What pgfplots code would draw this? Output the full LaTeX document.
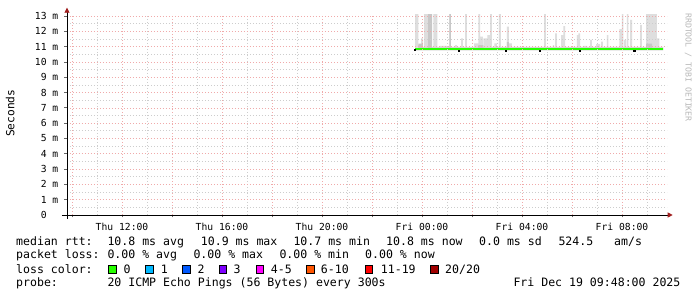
\documentclass[border=0pt]{standalone}
\usepackage{fontspec}
\setmonofont{DejaVu Sans Mono}
\usepackage{pgfplots}
\pgfplotsset{compat=1.18}
\usetikzlibrary{arrows.meta}
\definecolor{mgrid}{RGB}{240,170,170}
\definecolor{mingrid}{RGB}{205,205,205}
\definecolor{smoke}{RGB}{222,222,222}
\definecolor{smokemid}{RGB}{200,200,200}
\definecolor{smokedark}{RGB}{185,185,185}
\definecolor{loss0}{HTML}{26FF00}
\definecolor{loss1}{HTML}{00B8FF}
\definecolor{loss2}{HTML}{0059FF}
\definecolor{loss3}{HTML}{7E00FF}
\definecolor{loss4}{HTML}{FF00FF}
\definecolor{loss6}{HTML}{FF5500}
\definecolor{loss11}{HTML}{FF0000}
\definecolor{loss20}{HTML}{A10000}
\definecolor{arrowred}{RGB}{160,30,30}
\newcommand\legfont{\ttfamily\fontsize{11.55}{12}\selectfont}
\newcommand\tickfont{\ttfamily\fontsize{9.7}{10}\selectfont}
\newcommand\lgd[3]{\node[anchor=base west, inner sep=0pt, font=\legfont] at (#1pt,#2pt) {#3};}
\newcommand\sq[2]{\draw[fill=#2, line width=0.8pt] (#1pt,23.6pt) rectangle ++(7.8pt,8pt);}
\begin{document}
\begin{tikzpicture}
\useasboundingbox (0,0) rectangle (697pt,297pt);
\fill[white] (0,0) rectangle (697pt,297pt);
\begin{axis}[
  at={(67pt,82pt)}, anchor=south west,
  scale only axis, width=600pt, height=200pt,
  xmin=9.8, xmax=33.8, ymin=0, ymax=13.07,
  axis lines*=left,
  axis line style={black, line width=0.8pt},
  x axis line style={-{Triangle[length=5pt,width=5pt,color=arrowred]}, shorten >=-5.7pt, shorten <=-5pt},
  y axis line style={-{Triangle[length=5pt,width=5pt,color=arrowred]}, shorten >=-7.3pt, shorten <=-4pt},
  xtick={10,12,...,32},
  xticklabels={,Thu 12:00,,Thu 16:00,,Thu 20:00,,Fri 00:00,,Fri 04:00,,Fri 08:00},
  minor xtick={11,13,...,33},
  ytick={0,1,...,13},
  yticklabels={0\phantom{\ m},1 m,2 m,3 m,4 m,5 m,6 m,7 m,8 m,9 m,10 m,11 m,12 m,13 m},
  minor ytick={0.5,1.5,...,12.5},
  grid=both,
  major grid style={mgrid, dash pattern=on 0.8pt off 2.2pt, line width=0.7pt},
  minor grid style={mingrid, dash pattern=on 0.8pt off 2.2pt, line width=0.7pt},
  tick align=outside, major tick length=2.5pt, minor tick length=0pt,
  tick style={black!60, line width=0.8pt},
  axis on top,
  xticklabel style={font=\tickfont, anchor=base, inner sep=0pt, yshift=-12.7pt},
  yticklabel style={font=\tickfont, anchor=east, inner sep=0pt, xshift=-6pt},
]
% light smoke
\addplot[fill=smoke, draw=none, const plot mark left] coordinates {
(23.72,10.78) (23.72,13.5) (23.853,11.1) (23.96,11.55) (24.03,10.98) (24.08,13.5) (24.39,10.98)
(24.45,13.5) (24.61,10.98) (24.72,11.05) (24.99,10.98) (25.09,13.5) (25.15,10.98) (25.32,11.1)
(25.39,10.98) (25.56,11.55) (25.63,10.98) (25.72,13.5) (25.79,10.98) (26.08,11.22) (26.25,13.5)
(26.32,11.65) (26.43,10.98) (26.45,11.55) (26.61,11.76) (26.72,13.5) (26.79,10.98) (26.89,11.22)
(26.99,10.98) (27.07,13.5) (27.15,10.98) (27.39,12.31) (27.47,11.22) (27.59,10.98) (28.88,13.5)
(28.95,10.98) (29.23,11.1) (29.28,10.98) (29.32,11.87) (29.39,10.98) (29.56,11.76) (29.65,12.35)
(29.72,10.98) (30.19,11.76) (30.25,11.87) (30.32,10.98) (30.45,11.05) (30.6,10.98) (30.72,11.44)
(30.79,10.98) (30.96,11.16) (31.12,10.98) (31.16,11.33) (31.23,10.98) (31.39,11.76) (31.45,10.98)
(31.89,12.14) (31.99,13.5) (32.05,10.98) (32.08,11.44) (32.16,10.98) (32.19,13.5) (32.25,10.98)
(32.32,12.75) (32.40,10.98) (32.72,12.42) (32.79,10.98) (32.96,13.5) (33.39,11.55) (33.49,10.98)
(33.64,10.98) (33.64,10.78)
} -- cycle;
% mid smoke
\addplot[fill=smokemid, draw=none, const plot mark left] coordinates {
(23.72,10.78) (23.85,11.2) (24.03,10.94) (24.24,13.5) (24.40,10.94) (25.09,13.5) (25.15,10.94)
(26.25,11.1) (26.45,10.94) (27.39,11.3) (27.47,10.94) (32.96,11.2) (33.2,10.94) (33.64,10.94) (33.64,10.78)
} -- cycle;
% dark band just above the median
\addplot[fill=smokedark, draw=none, const plot mark left] coordinates {
(23.72,10.78) (23.72,10.91) (33.64,10.91) (33.64,10.78)
} -- cycle;
% median rtt
\addplot[loss0, line width=2pt, const plot mark left] coordinates {
(23.72,10.82) (23.96,10.85) (24.2,10.82) (33.64,10.82)
};
\addplot[only marks, mark=square*, mark size=0.6pt, black] coordinates {
(23.72,10.82) (25.48,10.74) (27.36,10.74) (28.72,10.76) (30.32,10.74) (32.49,10.74)
};
\end{axis}
\node[font=\ttfamily\fontsize{11.2}{12}\selectfont, rotate=90, inner sep=0pt] at (10.3pt,183.7pt) {Seconds};
\node[font=\ttfamily\fontsize{8.2}{9}\selectfont, rotate=-90, text=gray!55, inner sep=0pt] at (688.3pt,229.5pt) {RRDTOOL / TOBI OETIKER};
% legend row 1
\lgd{16}{51.3}{median rtt:}
\lgd{107.3}{51.3}{10.8 ms avg}
\lgd{200.7}{51.3}{10.9 ms max}
\lgd{293.3}{51.3}{10.7 ms min}
\lgd{386}{51.3}{10.8 ms now}
\lgd{479}{51.3}{0.0 ms sd}
\lgd{558.3}{51.3}{524.5}
\lgd{614}{51.3}{am/s}
% row 2
\lgd{16}{38}{packet loss:}
\lgd{107.3}{38}{0.00 \% avg}
\lgd{193.3}{38}{0.00 \% max}
\lgd{279.3}{38}{0.00 \% min}
\lgd{365}{38}{0.00 \% now}
% row 3
\lgd{16}{23.7}{loss color:}
\sq{108.3}{loss0}\lgd{123.3}{23.7}{0}
\sq{145.7}{loss1}\lgd{160.7}{23.7}{1}
\sq{182.3}{loss2}\lgd{197.3}{23.7}{2}
\sq{219}{loss3}\lgd{233.3}{23.7}{3}
\sq{256}{loss4}\lgd{270.7}{23.7}{4-5}
\sq{306.7}{loss6}\lgd{320.7}{23.7}{6-10}
\sq{365}{loss11}\lgd{380.7}{23.7}{11-19}
\sq{430.7}{loss20}\lgd{445}{23.7}{20/20}
% row 4
\lgd{16}{10.3}{probe:}
\lgd{107.3}{10.3}{20 ICMP Echo Pings (56 Bytes) every 300s}
\lgd{513.3}{10.3}{Fri Dec 19 09:48:00 2025}
\end{tikzpicture}
\end{document}
